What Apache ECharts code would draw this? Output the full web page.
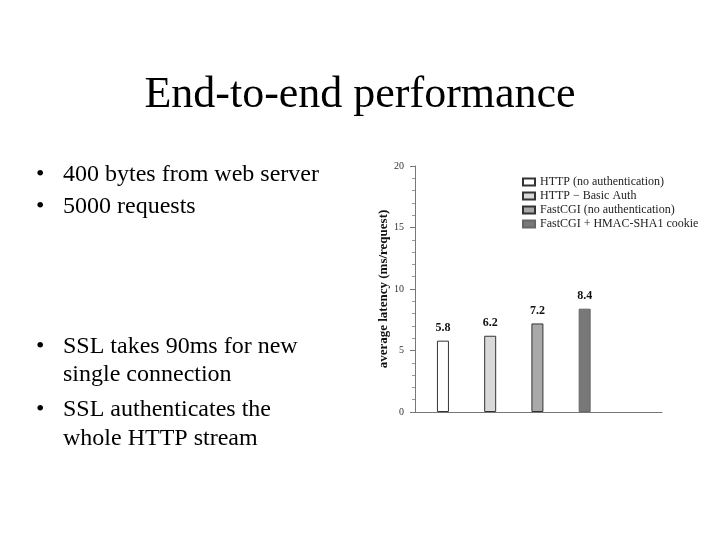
<!DOCTYPE html>
<html>
<head>
<meta charset="utf-8">
<script src="https://cdn.jsdelivr.net/npm/echarts@6/dist/echarts.min.js"></script>
<style>
html,body{margin:0;padding:0;background:#fff;}
#main{width:720px;height:540px;}
</style>
</head>
<body>
<div id="main"></div>
<script>
// ---- data ----
const titleText = "End-to-end performance";
const bullets = [
  ["400 bytes from web server"],
  ["5000 requests"],
  ["SSL takes 90ms for new", "single connection"],
  ["SSL authenticates the", "whole HTTP stream"]
];
const seriesNames = ["HTTP (no authentication)", "HTTP \u2212 Basic Auth", "FastCGI (no authentication)", "FastCGI + HMAC-SHA1 cookie"];
const latency = [5.8, 6.2, 7.2, 8.4];
const slots = ["HTTP (no authentication)", "HTTP \u2212 Basic Auth", "FastCGI (no authentication)", "FastCGI + HMAC-SHA1 cookie", ""];
const yAxisName = "average latency (ms/request)";

// ---- styles ----
const fills = ["#ffffff", "#d9d9d9", "#a9a9a9", "#787878"];
const borders = ["#333333", "#333333", "#333333", "#666666"];
const serif = "'Liberation Serif','Times New Roman',serif";

const chart = echarts.init(document.getElementById('main'), null, {renderer: 'canvas'});

// bullet text layout (line centres)
const lineY = [[175], [207], [347, 375], [410, 439]];
const graphics = [];
bullets.forEach((lines, bi) => {
  graphics.push({type: 'text', left: 36, y: lineY[bi][0], style: {text: '\u2022', font: '24px ' + serif, fill: '#000', verticalAlign: 'middle'}});
  lines.forEach((t, li) => {
    graphics.push({type: 'text', x: 63, y: lineY[bi][li], style: {text: t, font: '24px ' + serif, fill: '#000', verticalAlign: 'middle', align: 'left'}});
  });
});
graphics.push({type: 'text', x: 360, y: 95, style: {text: titleText, font: '44px ' + serif, fill: '#000', align: 'center', verticalAlign: 'middle'}});

const series = seriesNames.map((name, i) => ({
  name: name,
  type: 'bar',
  barWidth: 12,
  barGap: '-118%',
  data: slots.map((s, j) => (j === i ? latency[i] : null)),
  itemStyle: {color: fills[i], borderColor: borders[i], borderWidth: 1},
  label: {
    show: true, position: 'top', distance: 7,
    fontFamily: serif, fontSize: 12, fontWeight: 'bold', color: '#111',
    formatter: p => p.value.toFixed(1)
  }
}));

chart.setOption({
  animation: false,
  backgroundColor: '#ffffff',
  graphic: graphics,
  grid: {left: 415, right: 58, top: 166, bottom: 128, containLabel: false},
  legend: {
    orient: 'vertical', left: 522, top: 176, padding: 0,
    itemWidth: 12, itemHeight: 7, itemGap: 2,
    icon: 'rect',
    textStyle: {fontFamily: serif, fontSize: 12, color: '#222'},
    data: seriesNames
  },
  xAxis: {
    type: 'category', data: slots,
    axisLine: {lineStyle: {color: '#777', width: 1}},
    axisTick: {show: false}, axisLabel: {show: false}, splitLine: {show: false}
  },
  yAxis: {
    type: 'value', min: 0, max: 20, interval: 5,
    name: yAxisName, nameLocation: 'middle', nameGap: 25,
    nameTextStyle: {fontFamily: serif, fontSize: 13, fontWeight: 'bold', color: '#111'},
    axisLine: {show: true, lineStyle: {color: '#777', width: 1}},
    axisTick: {show: true, length: 5, lineStyle: {color: '#777'}},
    minorTick: {show: true, splitNumber: 5, length: 3, lineStyle: {color: '#999'}},
    axisLabel: {fontFamily: serif, fontSize: 10, color: '#333', margin: 11},
    splitLine: {show: false}
  },
  series: series
});
</script>
</body>
</html>
